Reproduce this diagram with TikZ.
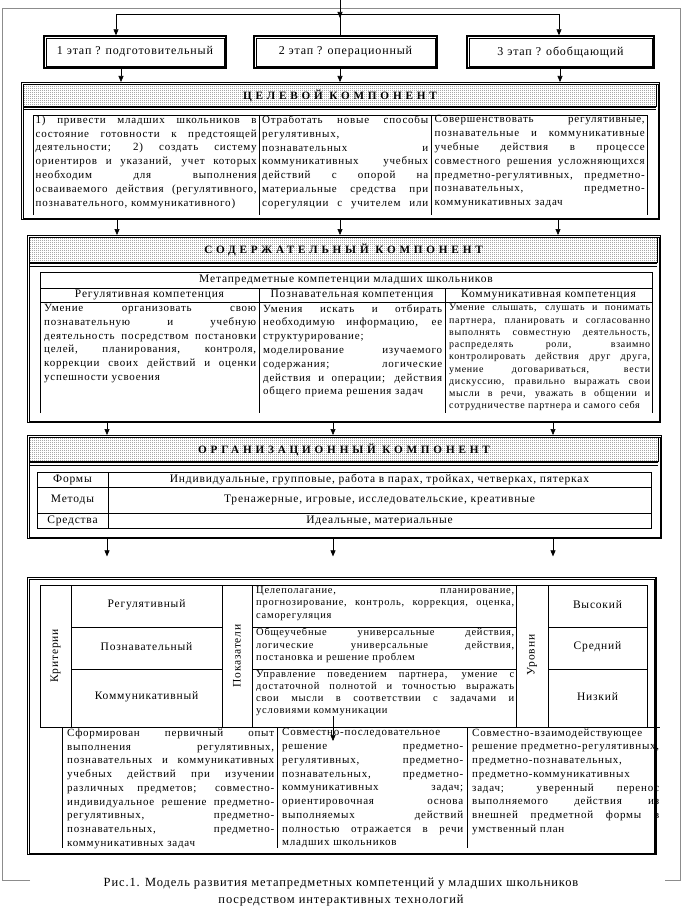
\documentclass[tikz,border=0pt]{standalone}
\usepackage{fontspec}
\setmainfont{Liberation Serif}
\newfontfamily\bodyf[LetterSpace=7]{Liberation Serif}
\newfontfamily\hdrf[LetterSpace=34]{Liberation Serif}
\usetikzlibrary{arrows.meta,patterns.meta}
\tikzdeclarepattern{
  name=hdrdots,
  type=uncolored,
  bounding box={(0pt,0pt) and (2pt,2pt)},
  tile size={(2pt,2pt)},
  code={\pgfpathrectangle{\pgfpointorigin}{\pgfpoint{0.9pt}{0.9pt}}\pgfusepath{fill}}
}
\newdimen\jw
\newcommand\jline[1]{\hbox to\jw{\spaceskip=\fontdimen2\font plus 1fil\relax #1}}
\newcommand\pline[1]{\hbox{#1}}
\begin{document}
\begin{tikzpicture}[x=1pt,y=-1pt,
  frame/.style={draw=black!45,line width=0.9pt},
  conn/.style={line width=0.6pt},
  arr/.style={line width=0.6pt,-{Triangle[width=5pt,length=6pt]}},
  bigbox/.style={draw,line width=1.4pt,inner sep=0pt,anchor=north west},
  stagebox/.style={draw,line width=1.4pt,inner sep=0pt,font=\bodyf\fontsize{12}{14}\selectfont},
  thin/.style={line width=0.6pt},
  hdrband/.style={pattern=hdrdots,pattern color=black!80,draw=black,line width=0.5pt},
  hdrtext/.style={font=\hdrf\bfseries\fontsize{11.2}{12}\selectfont,inner sep=0pt},
  body/.style={font=\bodyf\fontsize{11}{13.8}\selectfont,inner sep=0pt,anchor=north west},
  jw/.style={text width=#1,execute at begin node={\global\jw=#1\relax}},
  lbl/.style={font=\bodyf\fontsize{11.5}{13}\selectfont,inner sep=0pt},
  captext/.style={font=\bodyf\fontsize{12.5}{15}\selectfont,inner sep=0pt}
]
\useasboundingbox (0,0) rectangle (682,923);
\newcommand\innerframe[1]{\draw[thin] ([shift={(2.6,2.6)}]#1.north west) rectangle ([shift={(-2.6,-2.6)}]#1.south east);}

% outer gray frame
\draw[frame] (30,880) -- (2,880) -- (2,8) -- (680,8) -- (680,880) -- (665,880);

% stage boxes
\node[stagebox,minimum width=182pt,minimum height=32pt] (s1) at (135,52) {1 этап ? подготовительный};
\node[stagebox,minimum width=183pt,minimum height=32pt] (s2) at (345.5,52) {2 этап ? операционный};
\node[stagebox,minimum width=187pt,minimum height=32pt] (s3) at (560.5,52) {3 этап ? обобщающий};
\innerframe{s1}\innerframe{s2}\innerframe{s3}

% top connectors
\coordinate (topin) at (340,0);
\coordinate (jL) at (116,14);
\coordinate (jM) at (340,14);
\coordinate (jR) at (559,14);
\draw[conn] (jL) -- (jR);
\draw[arr] (topin) -- ([yshift=-4pt]jM);
\draw[conn] (jM) -- (jM |- s2.north);
\draw[arr] (jL) -- (jL |- s1.north);
\draw[arr] (jR) -- (jR |- s3.north);

% ===== goal component
\node[bigbox,minimum width=638pt,minimum height=137pt] (goal) at (21,82) {};
\innerframe{goal}
\draw[hdrband] (23.6,84.6) rectangle (656.4,106);
\draw[line width=1.8pt] (23.6,107.2) -- (656.4,107.2);
\draw[thin] (23.6,109.8) -- (656.4,109.8);
\node[hdrtext] (goalh) at (340,96) {ЦЕЛЕВОЙ КОМПОНЕНТ};
\draw[thin] (33,215) -- (33,115) -- (647,115) -- (647,215);
\draw[thin] (259,115) -- (259,215);
\draw[thin] (431,115) -- (431,215);
\node[body,jw=221pt] (g1) at (35.5,115.5) {%
\jline{1) привести младших школьников в}
\jline{состояние готовности к предстоящей}
\jline{деятельности; 2) создать систему}
\jline{ориентиров и указаний, учет которых}
\jline{необходим для выполнения}
\jline{осваиваемого действия (регулятивного,}
\pline{познавательного, коммуникативного)}};
\node[body,jw=166pt] (g2) at (262,115.5) {%
\jline{Отработать новые способы}
\pline{регулятивных,}
\jline{познавательных и}
\jline{коммуникативных учебных}
\jline{действий с опорой на}
\jline{материальные средства при}
\jline{сорегуляции с учителем или}};
\node[body,jw=210pt] (g3) at (434.5,115.5) {%
\jline{Совершенствовать регулятивные,}
\jline{познавательные и коммуникативные}
\jline{учебные действия в процессе}
\jline{совместного решения усложняющихся}
\jline{предметно-регулятивных, предметно-}
\jline{познавательных, предметно-}
\pline{коммуникативных задач}};

% ===== content component
\node[bigbox,minimum width=633pt,minimum height=187pt] (cont) at (27,235) {};
\innerframe{cont}
\draw[hdrband] (29.6,237.6) rectangle (657.4,262);
\draw[line width=1.8pt] (29.6,263.2) -- (657.4,263.2);
\draw[thin] (29.6,265.8) -- (657.4,265.8);
\node[hdrtext] (conth) at (343.5,250) {СОДЕРЖАТЕЛЬНЫЙ КОМПОНЕНТ};
\draw[thin] (40,413) -- (40,272) -- (652,272) -- (652,413);
\draw[thin] (40,288) -- (652,288);
\draw[thin] (40,302) -- (652,302);
\draw[thin] (259,288) -- (259,413);
\draw[thin] (445,288) -- (445,413);
\node[lbl] (ct) at (346,280) {Метапредметные компетенции младших школьников};
\node[lbl] (ch1) at (149.5,295) {Регулятивная компетенция};
\node[lbl] (ch2) at (352,295) {Познавательная компетенция};
\node[lbl] (ch3) at (548.5,295) {Коммуникативная компетенция};
\node[body,jw=212pt] (c1) at (44,304) {%
\jline{Умение организовать свою}
\jline{познавательную и учебную}
\jline{деятельность посредством постановки}
\jline{целей, планирования, контроля,}
\jline{коррекции своих действий и оценки}
\pline{успешности усвоения}};
\node[body,jw=179pt] (c2) at (263,304) {%
\jline{Умения искать и отбирать}
\jline{необходимую информацию, ее}
\pline{структурирование;}
\jline{моделирование изучаемого}
\jline{содержания; логические}
\jline{действия и операции; действия}
\pline{общего приема решения задач}};
\node[body,jw=201pt,font=\bodyf\fontsize{10}{12.25}\selectfont] (c3) at (449,304) {%
\jline{Умение слышать, слушать и понимать}
\jline{партнера, планировать и согласованно}
\jline{выполнять совместную деятельность,}
\jline{распределять роли, взаимно}
\jline{контролировать действия друг друга,}
\jline{умение договариваться, вести}
\jline{дискуссию, правильно выражать свои}
\jline{мысли в речи, уважать в общении и}
\pline{сотрудничестве партнера и самого себя}};

% ===== organisational component
\node[bigbox,minimum width=634pt,minimum height=103pt] (org) at (27,435) {};
\innerframe{org}
\draw[hdrband] (29.6,437.6) rectangle (658.4,461);
\draw[line width=1.8pt] (29.6,462.2) -- (658.4,462.2);
\draw[thin] (29.6,464.8) -- (658.4,464.8);
\node[hdrtext] (orgh) at (344,450) {ОРГАНИЗАЦИОННЫЙ КОМПОНЕНТ};
\draw[thin] (37,472) rectangle (651,528);
\draw[thin] (108,472) -- (108,528);
\draw[thin] (37,487) -- (651,487);
\draw[thin] (37,513) -- (651,513);
\node[lbl] (o1) at (72.5,480) {Формы};
\node[lbl] (o2) at (72.5,500) {Методы};
\node[lbl] (o3) at (72.5,520.5) {Средства};
\node[lbl] (o4) at (379.5,480) {Индивидуальные, групповые, работа в парах, тройках, четверках, пятерках};
\node[lbl] (o5) at (379.5,500) {Тренажерные, игровые, исследовательские, креативные};
\node[lbl] (o6) at (379.5,520.5) {Идеальные, материальные};

% ===== model box
\node[bigbox,minimum width=628pt,minimum height=277pt] (model) at (27,577) {};
\innerframe{model}
\draw[thin] (40,585) rectangle (647,727);
\foreach \xx in {71,222,252,516,548} {\draw[thin] (\xx,585) -- (\xx,727);}
\foreach \yy in {627,669} {
  \draw[thin] (71,\yy) -- (222,\yy);
  \draw[thin] (252,\yy) -- (516,\yy);
  \draw[thin] (548,\yy) -- (647,\yy);}
\draw[thin] (647,727) -- (660,727);
\node[lbl,rotate=90] (k0) at (55.5,656) {Критерии};
\node[lbl,rotate=90] (p0) at (237,656) {Показатели};
\node[lbl,rotate=90] (u0) at (532,655) {Уровни};
\node[lbl] (k1) at (146.5,605) {Регулятивный};
\node[lbl] (k2) at (146.5,647) {Познавательный};
\node[lbl] (k3) at (146.5,697) {Коммуникативный};
\node[lbl] (u1) at (597.5,605) {Высокий};
\node[lbl] (u2) at (597.5,647) {Средний};
\node[lbl] (u3) at (597.5,697) {Низкий};
\node[body,jw=258pt,font=\bodyf\fontsize{10.5}{12.5}\selectfont] (p1) at (256,586) {%
\jline{Целеполагание, планирование,}
\jline{прогнозирование, контроль, коррекция, оценка,}
\pline{саморегуляция}};
\node[body,jw=258pt,font=\bodyf\fontsize{10.5}{12.5}\selectfont] (p2) at (256,628) {%
\jline{Общеучебные универсальные действия,}
\jline{логические универсальные действия,}
\pline{постановка и решение проблем}};
\node[body,jw=258pt,font=\bodyf\fontsize{10.5}{12.2}\selectfont] (p3) at (256,670) {%
\jline{Управление поведением партнера, умение с}
\jline{достаточной полнотой и точностью выражать}
\jline{свои мысли в соответствии с задачами и}
\pline{условиями коммуникации}};
\foreach \xx in {62,277,467} {\draw[thin] (\xx,727) -- (\xx,848);}
\begin{scope}
\clip (30,727) rectangle (670,848);
\node[body,jw=207pt,font=\bodyf\fontsize{11}{13.75}\selectfont] (b1) at (67,728.5) {%
\jline{Сформирован первичный опыт}
\jline{выполнения регулятивных,}
\jline{познавательных и коммуникативных}
\jline{учебных действий при изучении}
\jline{различных предметов; совместно-}
\jline{индивидуальное решение предметно-}
\jline{регулятивных, предметно-}
\jline{познавательных, предметно-}
\pline{коммуникативных задач}};
\node[body,jw=181pt,font=\bodyf\fontsize{11}{13.75}\selectfont] (b2) at (282,728.5) {%
\pline{Совместно-последовательное}
\jline{решение предметно-}
\jline{регулятивных, предметно-}
\jline{познавательных, предметно-}
\jline{коммуникативных задач;}
\jline{ориентировочная основа}
\jline{выполняемых действий}
\jline{полностью отражается в речи}
\pline{младших школьников}};
\node[body,jw=187pt,font=\bodyf\fontsize{11}{13.75}\selectfont] (b3) at (472,728.5) {%
\pline{Совместно-взаимодействующее}
\jline{решение предметно-регулятивных,}
\pline{предметно-познавательных,}
\pline{предметно-коммуникативных}
\jline{задач; уверенный перенос}
\jline{выполняемого действия из}
\jline{внешней предметной формы в}
\pline{умственный план}};
\end{scope}
% redraw right frame over spilling text
\draw[line width=1.4pt] (model.north east) -- (model.south east);
\draw[thin] ([shift={(-2.6,2.6)}]model.north east) -- ([shift={(-2.6,-2.6)}]model.south east);

% ===== arrows between components
\foreach \xx/\nm in {121/a1,340/a2,560/a3} {\coordinate (\nm) at (\xx,0);}
\foreach \nm/\src in {a1/s1,a2/s2,a3/s3} {\draw[arr] (\nm |- \src.south) -- (\nm |- goal.north);}
\foreach \xx/\nm in {117/b1x,340/b2x,558/b3x} {\coordinate (\nm) at (\xx,0);}
\foreach \nm in {b1x,b2x,b3x} {\draw[arr] (\nm |- goal.south) -- (\nm |- cont.north);}
\foreach \xx/\nm in {107/c1x,333/c2x,553/c3x} {\coordinate (\nm) at (\xx,0);}
\foreach \nm in {c1x,c2x,c3x} {\draw[arr] (\nm |- cont.south) -- (\nm |- org.north);}
\foreach \nm in {c1x,c2x,c3x} {\draw[arr] (\nm |- org.south) -- ([yshift=-17pt]\nm |- org.south);}
\coordinate (mtip) at (333,741);
\draw[arr] (mtip |- p3.south) -- (mtip);

% caption
\node[captext] (cap1) at (341,884) {Рис.1. Модель развития метапредметных компетенций у младших школьников};
\node[captext] (cap2) at (341,901) {посредством интерактивных технологий};
\end{tikzpicture}
\end{document}
